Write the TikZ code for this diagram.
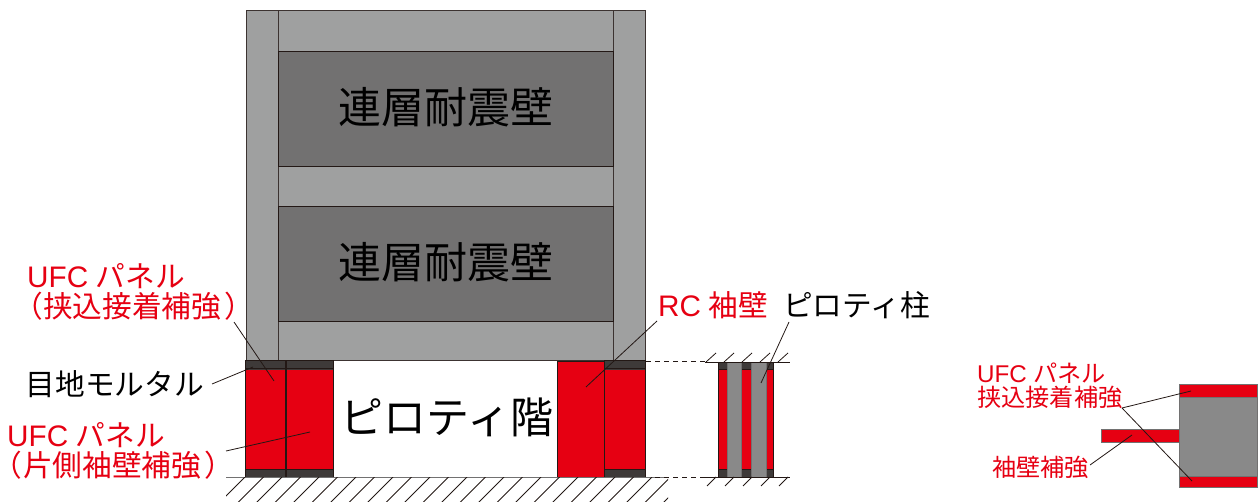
\documentclass[tikz,border=0pt]{standalone}
\usepackage{fontspec}
\setmainfont{Noto Sans CJK JP}
\newfontfamily\latinf{Liberation Sans}
\newfontfamily\palf[RawFeature=+palt]{Noto Sans CJK JP}
\definecolor{framegray}{HTML}{9FA0A0}
\definecolor{wallgray}{HTML}{727171}
\definecolor{colgray}{HTML}{898989}
\definecolor{mortar}{HTML}{3E3A39}
\definecolor{ufcred}{HTML}{E60012}
\definecolor{edge}{HTML}{231815}
\tikzset{
 frm/.style={draw=edge!80!framegray,line width=1pt,fill=framegray},
 wallb/.style={draw=edge,line width=1pt,fill=wallgray},
 redb/.style={draw=edge,line width=1pt,fill=ufcred},
 mort/.style={draw=mortar,line width=.8pt,fill=mortar},
 colb/.style={draw=wallgray,line width=.8pt,fill=colgray},
 leader/.style={draw=edge,line width=.8pt},
 hatch/.style={draw=edge,line width=.8pt},
 rl/.style={text=ufcred,inner sep=0pt,align=left,anchor=west},
 bl/.style={text=black,inner sep=0pt,align=left,anchor=west},
 big/.style={text=black,inner sep=0pt,font=\fontsize{43}{43}\selectfont},
 med/.style={font=\fontsize{29.7}{30}\selectfont},
 sml/.style={font=\fontsize{24.2}{24.5}\selectfont},
}
\begin{document}
\begin{tikzpicture}[x=1pt,y=-1pt]
\useasboundingbox (0,0) rectangle (1258,502);
% frame
\draw[frm] (278,11) rectangle (613,361);
\draw[frm] (246,11) rectangle (278,361);
\draw[frm] (613,11) rectangle (645,361);
\node[wallb,minimum width=335pt,minimum height=115pt,inner sep=0pt,anchor=north west] (w1) at (278,51) {};
\node[wallb,minimum width=335pt,minimum height=115pt,inner sep=0pt,anchor=north west] (w2) at (278,206) {};
\node[big] (t1) at (446,107) {連層耐震壁};
\node[big] (t2) at (446,262) {連層耐震壁};
% pilotis left
\fill[ufcred] (245,369) rectangle (333,469);
\draw[mort] (245,361) rectangle (333,369);
\draw[mort] (245,469) rectangle (333,477);
\draw[edge,line width=1pt] (245,361) rectangle (333,477);
\draw[edge,line width=1.2pt] (286,361) -- (286,477);
\draw[edge,line width=1pt] (245,369) -- (333,369) (245,469) -- (333,469);
% pilotis right
\draw[redb] (557,362) rectangle (604,477);
\fill[ufcred] (604,369) rectangle (645,469);
\draw[mort] (604,361) rectangle (645,369);
\draw[mort] (604,469) rectangle (645,477);
\draw[edge,line width=1pt] (604,361) rectangle (645,477);
\draw[edge,line width=1pt] (604,369) -- (645,369) (604,469) -- (645,469);
\node[big] (t3) at (447,417) {ピロティ階};
% ground
\draw[draw=wallgray,line width=1pt] (226,477) -- (668,477);
\begin{scope}
\clip (226,477) rectangle (668,502);
\foreach \x in {245,263.5,...,700} \draw[hatch] (\x,477) -- (\x-30,507);
\end{scope}
% dashed
\draw[edge,line width=.8pt,dash pattern=on 5pt off 4pt] (646,361) -- (706,361);
\draw[edge,line width=.8pt,dash pattern=on 5pt off 4pt] (655,477) -- (706,477);
% section
\fill[ufcred] (718,369) rectangle (773,469);
\draw[mort] (718,362) rectangle (773,369);
\draw[mort] (718,469) rectangle (773,477);
\draw[edge,line width=1pt] (718,362) -- (718,477) (773,362) -- (773,477);
\draw[edge,line width=1pt] (718,370) -- (773,370) (718,469) -- (773,469);
\draw[colb] (727,362) rectangle (741,477);
\draw[colb] (751,362) rectangle (766,477);
\draw[hatch] (705,362) -- (790,362);
\draw[hatch] (705,477) -- (790,477);
\foreach \x in {706,724,742,760,778} {
 \draw[hatch] (\x,362) -- (\x+10,353);
 \draw[hatch] (\x+1,486) -- (\x+10,477);
}
% right detail
\node[draw=wallgray,line width=1pt,fill=colgray,minimum width=78pt,minimum height=103pt,inner sep=0pt,anchor=north west] (col) at (1179,384) {};
\node[draw=wallgray,line width=.8pt,fill=ufcred,minimum width=78pt,minimum height=13pt,inner sep=0pt,anchor=north west] (ptop) at (1179,384) {};
\node[draw=wallgray,line width=.8pt,fill=ufcred,minimum width=78pt,minimum height=11pt,inner sep=0pt,anchor=north west] (pbot) at (1179,476) {};
\node[draw=wallgray,line width=.8pt,fill=ufcred,minimum width=78pt,minimum height=13pt,inner sep=0pt,anchor=north west] (wing) at (1101,429) {};
% labels
\node[rl,med] (l1) at (27,292) {{\latinf UFC} \hspace*{1pt}パネル\\{\palf （}\hspace*{1pt}挟込接着補強\hspace*{4pt}{\palf ）}};
\node[bl,med] (l2) at (25.5,384) {目地モルタル};
\node[rl,med] (l3) at (6,451) {\hspace*{1pt}{\latinf UFC} \hspace*{1pt}パネル\\{\palf （}\hspace*{2pt}片側袖壁補強\hspace*{4pt}{\palf ）}};
\node[rl,med] (l4) at (658,305) {{\latinf RC} \hspace*{1pt}袖壁};
\node[bl,med] (l5) at (783,305) {ピロティ柱};
\node[rl,sml] (l6) at (977,386) {{\latinf UFC} \hspace*{1pt}パネル\\挟込接着補強};
\node[rl,sml] (l7) at (992,467) {袖壁補強};
% leader ends
\coordinate (a1) at (234,322); \coordinate (b1) at (274,381);
\coordinate (a2) at (212,384); \coordinate (b2) at (253,367);
\coordinate (a3) at (226,451); \coordinate (b3) at (310,432);
\coordinate (a4) at (657,321); \coordinate (b4) at (586,387);
\coordinate (a5) at (789,322); \coordinate (b5) at (761,383);
\coordinate (a6) at (1122,408); \coordinate (b6) at (1191,391); \coordinate (c6) at (1192,481);
\coordinate (a7) at (1090,465); \coordinate (b7) at (1132,435);
\draw[leader] (a1) -- (b1);
\draw[leader] (a2) -- (b2);
\draw[leader] (a3) -- (b3);
\draw[leader] (a4) -- (b4);
\draw[leader] (a5) -- (b5);
\draw[leader] (a6) -- (b6);
\draw[leader] (a6) -- (c6);
\draw[leader] (a7) -- (b7);
\end{tikzpicture}
\end{document}
